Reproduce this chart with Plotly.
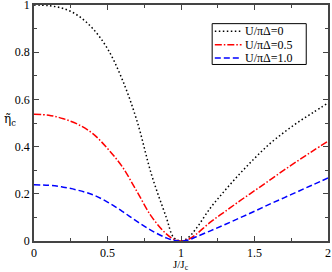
import plotly.graph_objects as go

x_vals = [0, 0.1, 0.2, 0.3, 0.4, 0.5, 0.6, 0.7, 0.8, 0.9, 0.95, 1.0, 1.05, 1.1,
          1.2, 1.3, 1.4, 1.5, 1.6, 1.7, 1.8, 1.9, 2.0]
eta_u0 = [1.0, 0.997, 0.985, 0.955, 0.90, 0.815, 0.685, 0.51, 0.28, 0.10, 0.015, 0.0,
          0.015, 0.05, 0.14, 0.215, 0.285, 0.35, 0.41, 0.46, 0.505, 0.545, 0.585]
eta_u05 = [0.537, 0.533, 0.518, 0.494, 0.455, 0.392, 0.315, 0.21, 0.103, 0.03, 0.008, 0.0,
           0.007, 0.027, 0.08, 0.125, 0.17, 0.213, 0.256, 0.30, 0.342, 0.383, 0.423]
eta_u10 = [0.238, 0.236, 0.228, 0.215, 0.196, 0.165, 0.126, 0.083, 0.044, 0.013, 0.003, 0.0,
           0.004, 0.017, 0.043, 0.07, 0.098, 0.126, 0.155, 0.183, 0.211, 0.239, 0.267]
series_names = ["U/πΔ=0", "U/πΔ=0.5", "U/πΔ=1.0"]
x_ticks = [0, 0.5, 1, 1.5, 2]
x_ticklabels = ["0", "0.5", "1", "1.5", "2"]
y_ticks = [0, 0.2, 0.4, 0.6, 0.8, 1]
y_ticklabels = ["0", "0.2", "0.4", "0.6", "0.8", "1"]

FONT = "Liberation Serif"
fig = go.Figure()
colors = ["black", "red", "blue"]
dashes = ["1.5px,2.5px", "7px,2px,1.5px,2px", "6px,3px"]
for name, ys, c, d in zip(series_names, [eta_u0, eta_u05, eta_u10], colors, dashes):
    fig.add_trace(go.Scatter(x=x_vals, y=ys, mode="lines", name=name, showlegend=False,
                             line=dict(color=c, dash=d, width=1.5, shape="spline", smoothing=1.0)))

axis_common = dict(showline=True, linecolor="#444", linewidth=1.5, mirror="ticks",
                   ticks="inside", ticklen=5, tickwidth=1, tickcolor="#444",
                   showgrid=False, zeroline=False, automargin=False,
                   ticklabeloverflow="allow",
                   tickfont=dict(family=FONT, size=12, color="black"))
fig.update_xaxes(range=[0, 2], tickvals=x_ticks, ticktext=x_ticklabels,
                 minor=dict(ticks="inside", ticklen=3, dtick=0.25, tickcolor="#444"),
                 **axis_common)
fig.update_yaxes(range=[0, 1], tickvals=y_ticks, ticktext=y_ticklabels,
                 minor=dict(ticks="inside", ticklen=3, dtick=0.1, tickcolor="#444"),
                 **axis_common)

fig.add_annotation(text="J/J<sub>c</sub>", xref="paper", yref="paper", x=0.5, y=-0.067,
                   yanchor="top", showarrow=False, borderpad=0,
                   font=dict(family=FONT, size=11, color="black"))
fig.add_annotation(text="η\u0303<sub>c</sub>", xref="paper", yref="paper", x=-0.055, y=0.513,
                   xanchor="right", showarrow=False, font=dict(family="DejaVu Serif", size=12, color="black"))

# hand-built legend (compact rows like the reference)
fig.add_shape(type="rect", xref="paper", yref="paper", x0=0.606, x1=0.926, y0=0.748, y1=0.921,
              line=dict(color="black", width=1), fillcolor="white", layer="above")
row_y = [0.889, 0.832, 0.775]
for name, c, d, yy in zip(series_names, colors, dashes, row_y):
    fig.add_shape(type="line", xref="paper", yref="paper", x0=0.615, x1=0.706, y0=yy, y1=yy,
                  line=dict(color=c, dash=d, width=1.5), layer="above")
    fig.add_annotation(text=name, xref="paper", yref="paper", x=0.714, y=yy, xanchor="left",
                       yanchor="middle", showarrow=False, borderpad=0,
                       font=dict(family=FONT, size=12, color="black"))

fig.update_layout(
    width=332, height=272,
    margin=dict(l=34, r=4, t=5, b=31, autoexpand=False),
    paper_bgcolor="white", plot_bgcolor="white",
    showlegend=False,
)
fig.write_html("out.html", config={"displayModeBar": False},
               post_script="document.body.style.margin='0';")
